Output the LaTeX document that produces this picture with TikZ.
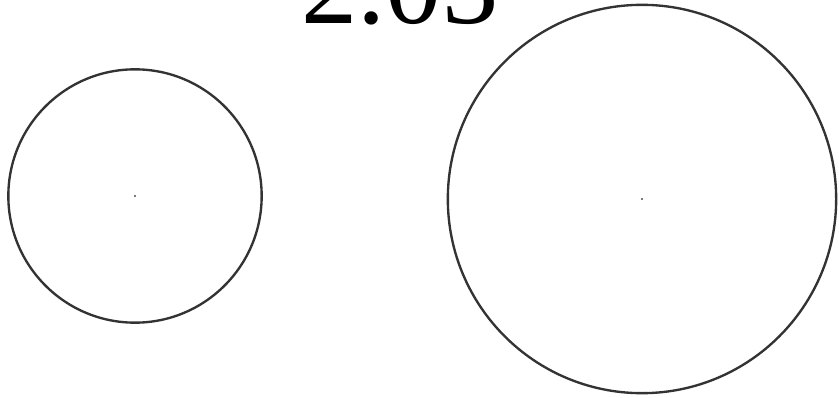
\documentclass[tikz,border=0pt]{standalone}
\usepackage{fontspec}
\setmainfont{Liberation Serif}
\usetikzlibrary{positioning}

\begin{document}
\begin{tikzpicture}[
    x=0.03cm, y=-0.03cm,
    ring/.style={draw=black!80, circle, line width=2pt, inner sep=0pt},
    title/.style={anchor=base, font=\fontsize{96}{96}\selectfont, inner sep=0pt}
]
    \clip (0,0) rectangle (839,398);
    \fill[white] (0,0) rectangle (839,398);

    \node[title] (label) at (400,24) {2.03};

    \node[ring, minimum size=7.6cm] (small) at (135,196) {};
    \node[ring, minimum size=11.65cm] (large) at (642,199) {};

    % center marks
    \fill[black!70] (small.center) circle (0.9pt);
    \fill[black!70] (large.center) circle (0.9pt);
\end{tikzpicture}
\end{document}
